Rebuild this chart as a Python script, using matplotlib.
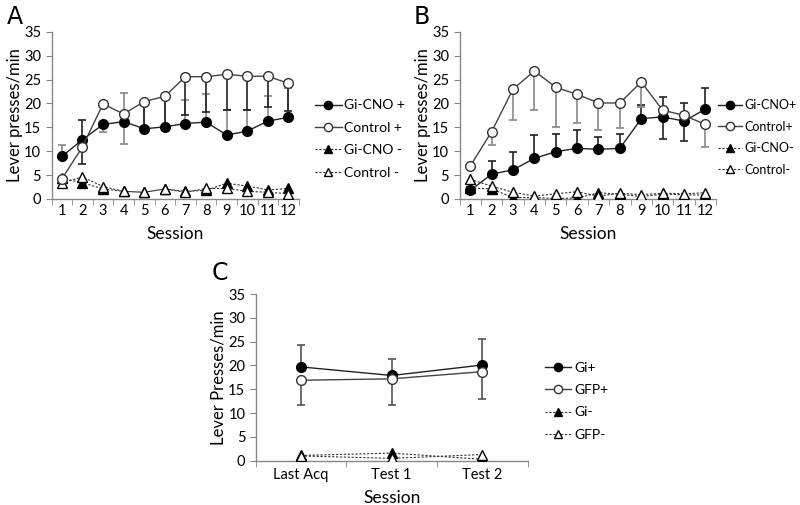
import numpy as np
import matplotlib.pyplot as plt

plt.rcParams['font.family'] = ['Lato', 'DejaVu Sans']

# 패널 A, B: 세션 1~12
sessions = np.arange(1, 13)

# 패널 A
a_gi_pos = [8.9, 12.4, 15.6, 16.2, 14.7, 15.1, 15.8, 16.1, 13.4, 14.2, 16.3, 17.1]
a_gi_pos_lo = [0, 0, 1.5, 4.7, 0, 0, 0, 0, 0, 0, 0, 0]
a_gi_pos_hi = [2.4, 0, 0, 5.9, 5.0, 6.0, 5.0, 5.8, 5.3, 4.5, 5.2, 6.2]
a_ctrl_pos = [4.2, 10.9, 19.9, 17.8, 20.4, 21.5, 25.6, 25.6, 26.1, 25.7, 25.7, 24.2]
a_ctrl_pos_lo = [0, 3.6, 0, 0, 5.7, 6.4, 8.0, 7.4, 7.4, 7.0, 6.5, 5.8]
a_ctrl_pos_hi = [0, 5.6, 0, 0, 0, 0, 0, 0, 0, 0, 0, 0]
a_gi_neg = [4.3, 3.4, 2.1, 1.6, 1.4, 2.1, 1.6, 1.8, 3.3, 2.7, 1.9, 2.2]
a_ctrl_neg = [3.4, 4.6, 2.6, 1.6, 1.4, 2.1, 1.4, 2.2, 2.2, 1.6, 1.4, 1.1]
a_labels = ['Gi-CNO +', 'Control +', 'Gi-CNO -', 'Control -']

# 패널 B
b_gi_pos = [1.8, 5.2, 6.1, 8.5, 9.9, 10.6, 10.4, 10.6, 16.8, 17.2, 16.3, 18.8]
b_gi_pos_lo = [0, 0, 0, 0, 0, 0, 0, 0, 0, 4.6, 4.2, 0]
b_gi_pos_hi = [0.8, 2.8, 3.7, 4.9, 3.8, 3.8, 2.6, 3.1, 2.8, 4.2, 3.8, 4.4]
b_ctrl_pos = [6.9, 14.1, 23.0, 26.8, 23.4, 21.9, 20.1, 20.1, 24.5, 18.6, 17.5, 15.6]
b_ctrl_pos_lo = [0, 2.8, 6.4, 8.2, 8.4, 6.0, 5.7, 5.3, 5.3, 0, 0, 4.7]
b_ctrl_pos_hi = [0, 0, 0, 0, 0, 0, 0, 0, 0, 0, 0, 0]
b_gi_neg = [2.3, 2.1, 0.3, 0.3, 0.1, 0.2, 1.3, 1.0, 0.5, 1.0, 0.9, 0.8]
b_ctrl_neg = [4.1, 2.7, 1.4, 0.6, 1.1, 1.5, 0.6, 1.2, 0.9, 1.2, 1.1, 1.3]
b_labels = ['Gi-CNO+', 'Control+', 'Gi-CNO-', 'Control-']

# 패널 C
c_cats = ['Last Acq', 'Test 1', 'Test 2']
c_gi_pos = [19.7, 17.9, 20.1]
c_gi_pos_lo = [0, 0, 0]
c_gi_pos_hi = [4.5, 3.5, 5.4]
c_gfp_pos = [16.9, 17.2, 18.7]
c_gfp_pos_lo = [5.1, 5.5, 5.7]
c_gfp_pos_hi = [0, 0, 0]
c_gi_neg = [1.1, 1.6, 0.3]
c_gfp_neg = [1.0, 0.5, 1.3]
c_labels = ['Gi+', 'GFP+', 'Gi-', 'GFP-']

fig = plt.figure(figsize=(8, 5.05), dpi=100)


def add_err(ax, x, y, lo, hi, color):
    x = np.asarray(x, float)
    y = np.asarray(y, float)
    lo = np.asarray(lo, float)
    hi = np.asarray(hi, float)
    m = lo > 0
    if m.any():
        ax.errorbar(x[m], y[m], yerr=[lo[m], np.zeros(m.sum())], fmt='none',
                    ecolor=color, elinewidth=1.2, capsize=3, capthick=1.2, zorder=2)
    m = hi > 0
    if m.any():
        ax.errorbar(x[m], y[m], yerr=[np.zeros(m.sum()), hi[m]], fmt='none',
                    ecolor=color, elinewidth=1.2, capsize=3, capthick=1.2, zorder=2)


def draw_panel(rect, x, gp, gp_lo, gp_hi, cp, cp_lo, cp_hi, gn, cn, labels,
               gi_ecol, ct_ecol, letter, letter_xy, leg_xy, leg_fs, ylabel):
    ax = fig.add_axes(rect)
    add_err(ax, x, gp, gp_lo, gp_hi, gi_ecol)
    add_err(ax, x, cp, cp_lo, cp_hi, ct_ecol)
    ax.plot(x, gn, ls=(0, (2, 1.5)), lw=0.8, color='#333333', marker='^', ms=6.5,
            mfc='black', mec='black', label=labels[2], zorder=3)
    ax.plot(x, cn, ls=(0, (2, 1.5)), lw=0.8, color='#333333', marker='^', ms=6.5,
            mfc='white', mec='black', label=labels[3], zorder=3)
    ax.plot(x, gp, ls='-', lw=1.0, color='#222222', marker='o', ms=7,
            mfc='black', mec='black', label=labels[0], zorder=4)
    ax.plot(x, cp, ls='-', lw=1.0, color='#444444', marker='o', ms=7,
            mfc='white', mec='#333333', label=labels[1], zorder=4)

    ax.set_ylim(0, 35)
    ax.set_yticks(range(0, 36, 5))
    for s in ['top', 'right']:
        ax.spines[s].set_visible(False)
    for s in ['left', 'bottom']:
        ax.spines[s].set_color('#888888')
        ax.spines[s].set_linewidth(1.0)
    ax.tick_params(axis='both', colors='#888888', labelcolor='black',
                   labelsize=10.5, length=4, direction='out')
    ax.set_xlabel('Session', fontsize=12.5, labelpad=6)
    ax.set_ylabel(ylabel, fontsize=12, labelpad=1)

    h, l = ax.get_legend_handles_labels()
    order = [2, 3, 0, 1]
    fig.legend([h[i] for i in order], [l[i] for i in order], loc='upper left',
               bbox_to_anchor=leg_xy, frameon=False, fontsize=leg_fs,
               handlelength=1.9, handletextpad=0.2, labelspacing=0.75,
               borderpad=0, borderaxespad=0, markerscale=0.85)
    fig.text(letter_xy[0], letter_xy[1], letter, fontsize=17,
             family='DejaVu Sans', ha='left', va='center')
    return ax


ax_a = draw_panel([0.0644, 0.606, 0.309, 0.331], sessions,
                  a_gi_pos, a_gi_pos_lo, a_gi_pos_hi,
                  a_ctrl_pos, a_ctrl_pos_lo, a_ctrl_pos_hi,
                  a_gi_neg, a_ctrl_neg, a_labels, '#888888', '#222222',
                  'A', (0.008, 0.966), (0.394, 0.803), 10, 'Lever presses/min')
ax_a.set_xlim(0.5, 12.5)
ax_a.set_xticks(sessions)
ax_a.set_xticks(np.arange(0.5, 13, 1), minor=True)
ax_a.tick_params(axis='x', which='major', length=0)
ax_a.tick_params(axis='x', which='minor', length=4, colors='#888888')

ax_b = draw_panel([0.5745, 0.606, 0.3205, 0.331], sessions,
                  b_gi_pos, b_gi_pos_lo, b_gi_pos_hi,
                  b_ctrl_pos, b_ctrl_pos_lo, b_ctrl_pos_hi,
                  b_gi_neg, b_ctrl_neg, b_labels, '#222222', '#888888',
                  'B', (0.517, 0.966), (0.898, 0.803), 9, 'Lever presses/min')
ax_b.set_xlim(0.5, 12.5)
ax_b.set_xticks(sessions)
ax_b.set_xticks(np.arange(0.5, 13, 1), minor=True)
ax_b.tick_params(axis='x', which='major', length=0)
ax_b.tick_params(axis='x', which='minor', length=4, colors='#888888')

cx = np.arange(len(c_cats))
ax_c = draw_panel([0.3196, 0.0877, 0.34, 0.330], cx,
                  c_gi_pos, c_gi_pos_lo, c_gi_pos_hi,
                  c_gfp_pos, c_gfp_pos_lo, c_gfp_pos_hi,
                  c_gi_neg, c_gfp_neg, c_labels, '#555555', '#555555',
                  'C', (0.265, 0.46), (0.681, 0.284), 10, 'Lever Presses/min')
ax_c.set_xlim(-0.5, 2.5)
ax_c.set_xticks(cx)
ax_c.set_xticklabels(c_cats)
ax_c.set_xticks(np.arange(-0.5, 3, 1), minor=True)
ax_c.tick_params(axis='x', which='major', length=0, pad=5)
ax_c.tick_params(axis='x', which='minor', length=4, colors='#888888')

fig.savefig('out.png', dpi=100)
